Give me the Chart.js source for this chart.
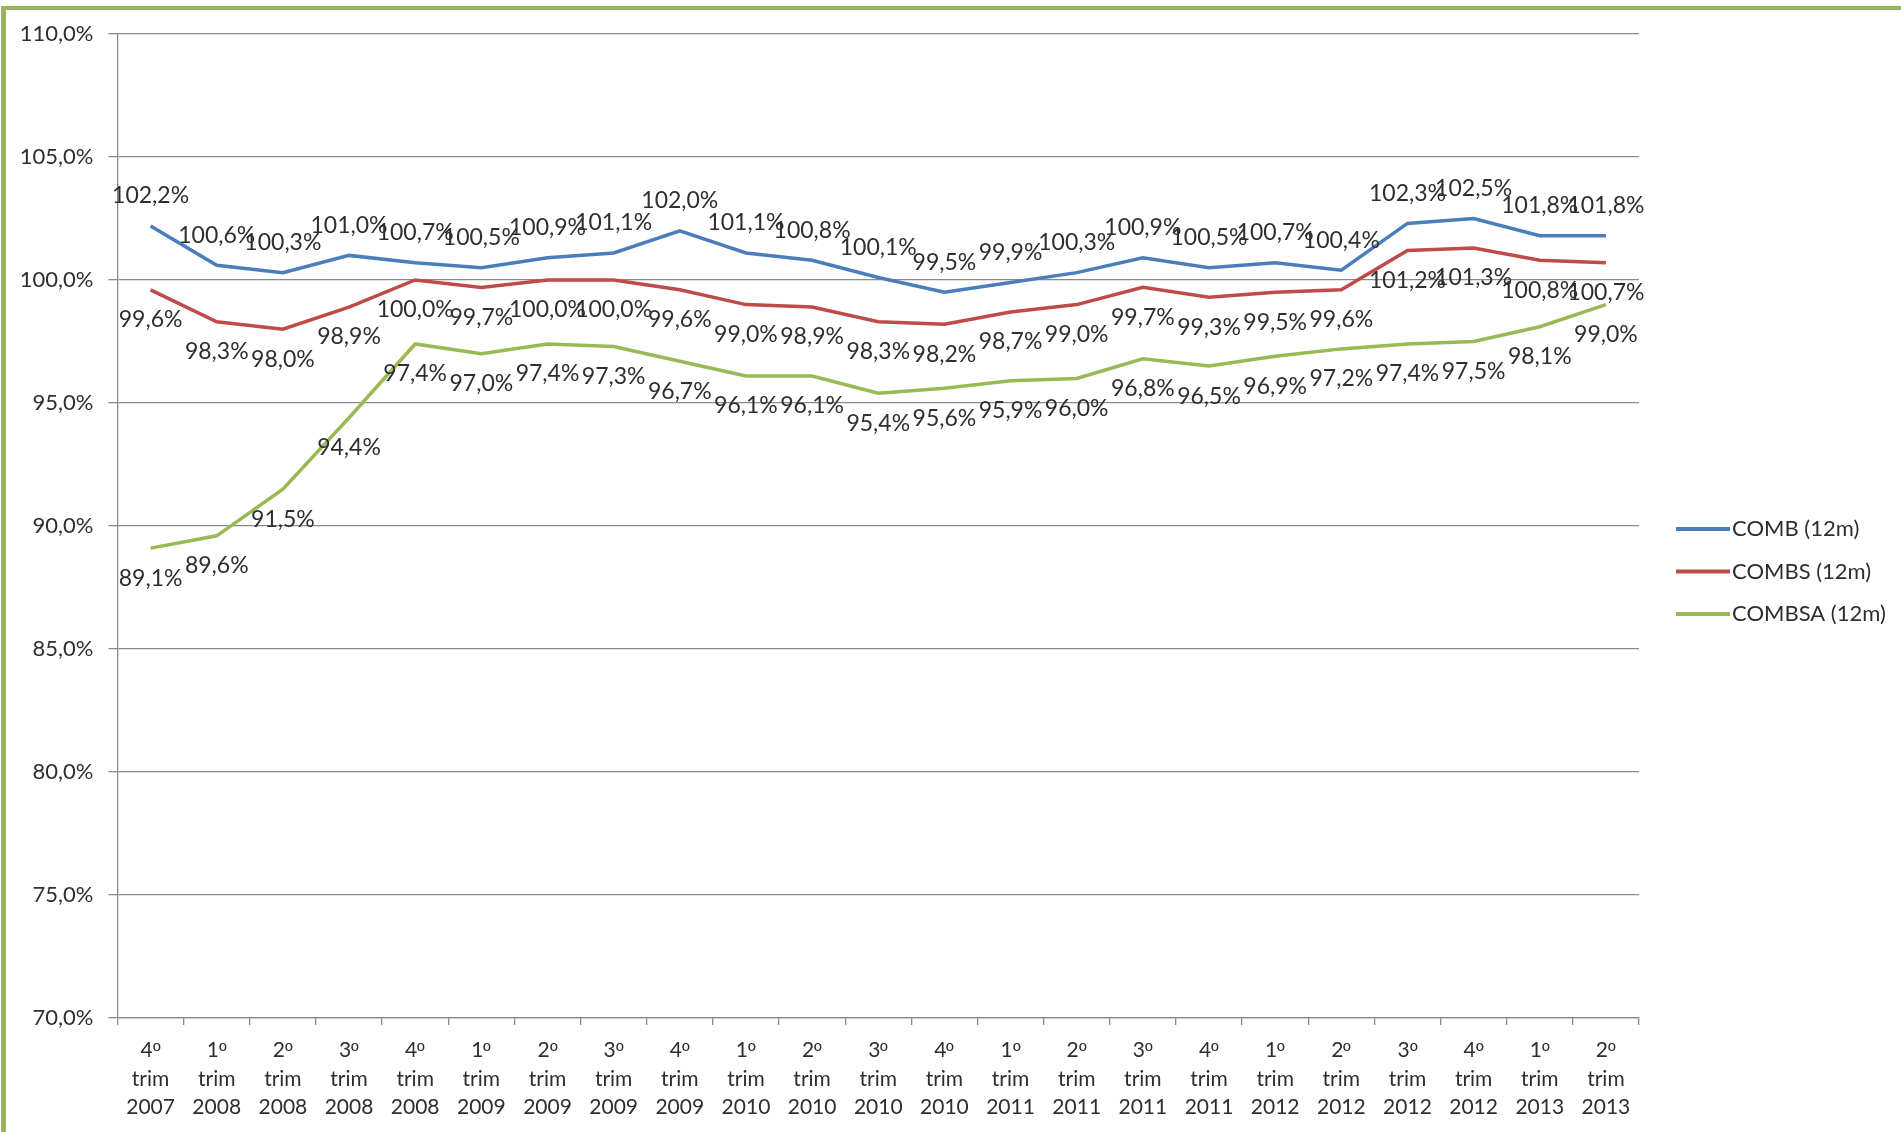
<!DOCTYPE html>
<html>
<head>
<meta charset="utf-8">
<script src="https://cdn.jsdelivr.net/npm/chart.js@4.4.1/dist/chart.umd.min.js"></script>
<style>
  /* ordinal sign taken from a face that draws it underlined */
  @font-face {
    font-family: 'OrdinalSign';
    src: local('Liberation Sans'), local('LiberationSans'), local('DejaVu Sans'), local('DejaVuSans');
    unicode-range: U+00BA;
  }
  html, body { margin: 0; padding: 0; background: #ffffff; }
  #wrap { position: relative; width: 1901px; height: 1132px; overflow: hidden; }
  #chart { position: absolute; left: 0; top: 0; }
  .frame-left { position: absolute; left: 1px; top: 6px; width: 5px; height: 1126px; background: #9bb35e; }
  .frame-top { position: absolute; left: 1px; top: 6px; width: 1900px; height: 4px; background: #9bb35e; }
</style>
</head>
<body>
<div id="wrap">
  <canvas id="chart" width="1901" height="1132"></canvas>
  <div class="frame-left"></div>
  <div class="frame-top"></div>
</div>
<script>
// Quarter / year pairs for the x axis
const quarters = ['4º','1º','2º','3º','4º','1º','2º','3º','4º','1º','2º','3º','4º','1º','2º','3º','4º','1º','2º','3º','4º','1º','2º'];
const years = ['2007','2008','2008','2008','2008','2009','2009','2009','2009','2010','2010','2010','2010','2011','2011','2011','2011','2012','2012','2012','2012','2013','2013'];

// Series values (%), 12-month indicators
const comb   = [102.2,100.6,100.3,101.0,100.7,100.5,100.9,101.1,102.0,101.1,100.8,100.1,99.5,99.9,100.3,100.9,100.5,100.7,100.4,102.3,102.5,101.8,101.8];
const combs  = [99.6,98.3,98.0,98.9,100.0,99.7,100.0,100.0,99.6,99.0,98.9,98.3,98.2,98.7,99.0,99.7,99.3,99.5,99.6,101.2,101.3,100.8,100.7];
const combsa = [89.1,89.6,91.5,94.4,97.4,97.0,97.4,97.3,96.7,96.1,96.1,95.4,95.6,95.9,96.0,96.8,96.5,96.9,97.2,97.4,97.5,98.1,99.0];

const seriesNames = ['COMB (12m)','COMBS (12m)','COMBSA (12m)'];

// Y axis range and step
const yMin = 70, yMax = 110, yStep = 5;

const categories = quarters.map((q, i) => [q, 'trim', years[i]]);

const fmt = v => v.toFixed(1).replace('.', ',') + '%';
const FONT = 'Lato, "Open Sans", sans-serif';
const XFONT = 'OrdinalSign, Lato, "Open Sans", sans-serif';
const TEXT = '#2e2e2e';

// Value labels: first series above its line, the others below
const valueLabels = {
  id: 'valueLabels',
  afterDatasetsDraw(chart) {
    const ctx = chart.ctx;
    ctx.save();
    ctx.font = '23px ' + FONT;
    ctx.fillStyle = TEXT;
    ctx.textAlign = 'center';
    ctx.textBaseline = 'middle';
    chart.data.datasets.forEach((ds, i) => {
      const meta = chart.getDatasetMeta(i);
      const dy = i === 0 ? -30 : 30;
      meta.data.forEach((pt, j) => {
        ctx.fillText(fmt(ds.data[j]), pt.x, pt.y + dy);
      });
    });
    ctx.restore();
  }
};

// Legend drawn to the right of the plot area
const sideLegend = {
  id: 'sideLegend',
  afterDraw(chart) {
    const ctx = chart.ctx;
    const x0 = chart.chartArea.right + 37;
    const y0 = 529, gap = 42.5;
    ctx.save();
    ctx.font = '22px ' + FONT;
    ctx.textBaseline = 'middle';
    ctx.textAlign = 'left';
    chart.data.datasets.forEach((ds, i) => {
      const y = y0 + i * gap;
      ctx.strokeStyle = ds.borderColor;
      ctx.lineWidth = 4;
      ctx.beginPath();
      ctx.moveTo(x0, y);
      ctx.lineTo(x0 + 54, y);
      ctx.stroke();
      ctx.fillStyle = TEXT;
      ctx.fillText(ds.label, x0 + 56, y);
    });
    ctx.restore();
  }
};

const colors = ['#4a7ebb', '#be4b48', '#98b954'];
const values = [comb, combs, combsa];

function draw() {
  new Chart(document.getElementById('chart'), {
    type: 'line',
    data: {
      labels: categories,
      datasets: values.map((v, i) => ({
        label: seriesNames[i],
        data: v,
        borderColor: colors[i],
        backgroundColor: colors[i],
        borderWidth: 3.5,
        pointRadius: 0,
        pointHoverRadius: 0,
        tension: 0,
        fill: false
      }))
    },
    options: {
      responsive: false,
      animation: false,
      layout: { padding: { top: 34, right: 262, bottom: 0, left: 0 } },
      plugins: {
        legend: { display: false },
        tooltip: { enabled: false }
      },
      scales: {
        x: {
          offset: true,
          grid: {
            offset: true,
            drawOnChartArea: false,
            drawTicks: true,
            tickLength: 7,
            color: '#8a8a8a',
            lineWidth: 1.3
          },
          border: { display: true, color: '#8a8a8a', width: 1.3 },
          ticks: {
            color: TEXT,
            font: { family: XFONT, size: 21, lineHeight: 1.36 },
            padding: 11,
            maxRotation: 0,
            autoSkip: false
          },
          afterFit(scale) { scale.height = 114; }
        },
        y: {
          min: yMin,
          max: yMax,
          grid: {
            color: '#8a8a8a',
            lineWidth: 1.3,
            drawTicks: true,
            tickLength: 9
          },
          border: { display: true, color: '#8a8a8a', width: 1.3 },
          ticks: {
            stepSize: yStep,
            color: TEXT,
            font: { family: FONT, size: 22 },
            padding: 15,
            callback: v => fmt(v)
          },
          afterFit(scale) { scale.width = 117.5; }
        }
      }
    },
    plugins: [valueLabels, sideLegend]
  });
}

// wait for the ordinal face before drawing on the canvas
let started = false;
const go = () => { if (!started) { started = true; draw(); } };
if (document.fonts && document.fonts.load) {
  Promise.all([
    document.fonts.load('21px OrdinalSign', 'º'),
    document.fonts.load('21px Lato', '0')
  ]).then(go, go);
  setTimeout(go, 1500);
} else {
  go();
}
</script>
</body>
</html>
